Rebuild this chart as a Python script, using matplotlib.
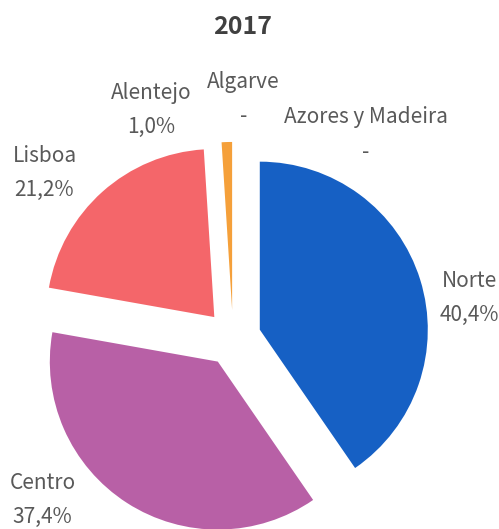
import matplotlib
matplotlib.use("Agg")
import matplotlib.pyplot as plt

# Data
regions = ["Norte", "Centro", "Lisboa", "Alentejo", "Algarve", "Azores y Madeira"]
shares = [40.4, 37.4, 21.2, 1.0, 0.0, 0.0]
share_labels = ["40,4%", "37,4%", "21,2%", "1,0%", "-", "-"]
title = "2017"

# Styles
colors = ["#1660C4", "#B860A6", "#F4666A", "#F5A03A", "#A5A5A5", "#4472C4"]
explode = [0.167] * len(shares)
label_pos = [(1.405, 0.238), (-1.134, -0.964), (-1.122, 0.982),
             (-0.485, 1.357), (0.0625, 1.423), (0.792, 1.211)]

plt.rcParams['font.family'] = ['Noto Sans CJK JP', 'DejaVu Sans']

fig = plt.figure(figsize=(4.99, 5.29), dpi=100)
ax = fig.add_axes([0, 0, 1, 1])
ax.pie(shares, explode=explode, colors=colors, startangle=90, counterclock=False,
       radius=1.0, center=(0, 0), wedgeprops=dict(linewidth=0))
ax.set_xlim(-233 / 168, (499 - 233) / 168)
ax.set_ylim(-191 / 168, 338 / 168)
ax.set_aspect('auto')
ax.axis('off')

for name, lab, (x, y) in zip(regions, share_labels, label_pos):
    ax.text(x, y, f"{name}\n{lab}", ha='center', va='center', fontsize=15,
            color='#595959', linespacing=1.75)

fig.text(243 / 499, 1 - 27 / 529, title, ha='center', va='center', fontsize=18,
         fontweight='bold', color='#404040')

fig.savefig("out.png", dpi=100)
